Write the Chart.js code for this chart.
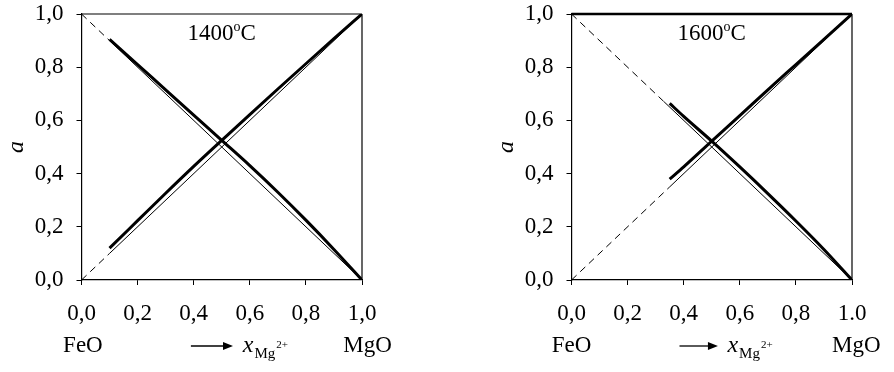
<!DOCTYPE html>
<html lang="en-US">

<head>
    <meta charset="UTF-8">
    <title>FeO-MgO activities</title>
    <script src="https://cdn.jsdelivr.net/npm/chart.js"></script>
    <style>
        body { margin: 0; background: #fff; }
        .panel { position: absolute; top: 0; width: 404px; height: 372px; }
    </style>
</head>

<body>
    <div class="panel" style="left:0px"><canvas id="chart1400"></canvas></div>
    <div class="panel" style="left:490px"><canvas id="chart1600"></canvas></div>

    <script>
        // tick labels (the right panel really shows "1.0" on the x axis)
        const yTickLabels = ['0,0', '0,2', '0,4', '0,6', '0,8', '1,0'];
        const xTickLabels1400 = ['0,0', '0,2', '0,4', '0,6', '0,8', '1,0'];
        const xTickLabels1600 = ['0,0', '0,2', '0,4', '0,6', '0,8', '1.0'];

        // 1400 C: measured activities vs mole fraction of Mg2+
        const xMg1400 = [0.1, 0.2, 0.3, 0.4, 0.5, 0.6, 0.7, 0.8, 0.9, 1.0];
        const aMg1400 = [0.12, 0.223, 0.326, 0.427, 0.525, 0.622, 0.718, 0.813, 0.907, 1.0];
        const aFe1400 = [0.905, 0.81, 0.715, 0.62, 0.525, 0.43, 0.33, 0.225, 0.115, 0.0];

        // 1600 C
        const xMg1600 = [0.35, 0.4, 0.5, 0.6, 0.7, 0.8, 0.9, 1.0];
        const aMg1600 = [0.379, 0.425, 0.522, 0.618, 0.715, 0.81, 0.905, 1.0];
        const aFe1600 = [0.664, 0.615, 0.522, 0.425, 0.325, 0.222, 0.115, 0.0];

        // ideal (Raoult) lines, dashed up to the second point
        const idealMgX1400 = [0, 0.1, 1];
        const idealMgY1400 = [0, 0.1, 1];
        const idealFeX1400 = [0, 0.1, 1];
        const idealFeY1400 = [1, 0.9, 0];
        const idealMgX1600 = [0, 0.35, 1];
        const idealMgY1600 = [0, 0.35, 1];
        const idealFeX1600 = [0, 0.33, 1];
        const idealFeY1600 = [1, 0.67, 0];

        Chart.defaults.font.family = "'Liberation Serif', 'Times New Roman', serif";
        Chart.defaults.color = '#000';

        function pts(xs, ys) {
            return xs.map((x, i) => ({ x: x, y: ys[i] }));
        }

        function thick(xs, ys) {
            return { data: pts(xs, ys), borderColor: '#000', borderWidth: 3, pointRadius: 0, cubicInterpolationMode: 'monotone' };
        }

        function ideal(xs, ys) {
            return {
                data: pts(xs, ys), borderColor: '#000', borderWidth: 1, pointRadius: 0,
                segment: { borderDash: ctx => ctx.p0DataIndex === 0 ? [7, 5] : undefined }
            };
        }

        // frame, temperature and the composition row under the axis
        const panelDecor = {
            id: 'panelDecor',
            afterDraw(chart, args, opts) {
                const { ctx, chartArea: a, scales: { x, y } } = chart;
                ctx.save();
                ctx.strokeStyle = '#000';
                ctx.fillStyle = '#000';
                ctx.lineWidth = opts.topWidth;
                ctx.beginPath(); ctx.moveTo(a.left, a.top); ctx.lineTo(a.right, a.top); ctx.stroke();
                ctx.lineWidth = 1.2;
                ctx.beginPath(); ctx.moveTo(a.right, a.top); ctx.lineTo(a.right, a.bottom); ctx.stroke();

                // temperature with superscript o
                const serif = Chart.defaults.font.family;
                ctx.textBaseline = 'alphabetic';
                ctx.textAlign = 'left';
                const big = '23px ' + serif, small = '14px ' + serif;
                ctx.font = big;
                const wNum = ctx.measureText(opts.temp).width, wC = ctx.measureText('C').width;
                ctx.font = small;
                const wO = ctx.measureText('o').width;
                let tx = x.getPixelForValue(0.5) - (wNum + wO + wC) / 2;
                const ty = y.getPixelForValue(0.93) + 7;
                ctx.font = big; ctx.fillText(opts.temp, tx, ty); tx += wNum;
                ctx.font = small; ctx.fillText('o', tx, ty - 9); tx += wO;
                ctx.font = big; ctx.fillText('C', tx, ty);

                // FeO ---> x Mg2+ MgO
                const rowY = a.bottom + 72;
                ctx.textAlign = 'center';
                ctx.font = big;
                ctx.fillText('FeO', x.getPixelForValue(opts.feoAt), rowY);
                ctx.fillText('MgO', x.getPixelForValue(opts.mgoAt), rowY);
                const ax0 = x.getPixelForValue(opts.arrow[0]), ax1 = x.getPixelForValue(opts.arrow[1]);
                const ay = rowY - 6;
                ctx.lineWidth = 1.3;
                ctx.beginPath(); ctx.moveTo(ax0, ay); ctx.lineTo(ax1 - 8, ay); ctx.stroke();
                ctx.beginPath(); ctx.moveTo(ax1, ay); ctx.lineTo(ax1 - 10, ay - 4); ctx.lineTo(ax1 - 10, ay + 4); ctx.closePath(); ctx.fill();
                ctx.textAlign = 'left';
                let lx = x.getPixelForValue(opts.xLabelAt);
                ctx.font = 'italic 24px ' + serif;
                ctx.fillText('x', lx, rowY);
                lx += ctx.measureText('x').width + 1;
                ctx.font = '15px ' + serif;
                ctx.fillText('Mg', lx, rowY + 6);
                lx += ctx.measureText('Mg').width + 1;
                ctx.font = '11px ' + serif;
                ctx.fillText('2+', lx, rowY - 4);
                ctx.restore();
            }
        };

        function makePanel(id, tickX, datasets, decor) {
            new Chart(document.getElementById(id), {
                type: 'line',
                data: { datasets: datasets },
                plugins: [panelDecor],
                options: {
                    responsive: true,
                    maintainAspectRatio: false,
                    animation: false,
                    layout: { padding: { left: 0, right: 42, top: 14, bottom: 42 } },
                    plugins: { legend: { display: false }, tooltip: { enabled: false }, panelDecor: decor },
                    scales: {
                        x: {
                            type: 'linear', min: 0, max: 1,
                            afterFit: s => { s.height = 50; },
                            ticks: { stepSize: 0.2, padding: 15, font: { size: 23 }, maxRotation: 0, callback: (v, i) => tickX[i] },
                            grid: { drawOnChartArea: false, tickLength: 5, color: '#000', lineWidth: 1 },
                            border: { color: '#000', width: 1.2 }
                        },
                        y: {
                            min: 0, max: 1,
                            afterFit: s => { s.width = 81.5; s.paddingTop = 0; s.paddingBottom = 0; },
                            ticks: { stepSize: 0.2, padding: 13, font: { size: 23 }, callback: (v, i) => yTickLabels[i] },
                            grid: { drawOnChartArea: false, tickLength: 5, color: '#000', lineWidth: 1 },
                            border: { color: '#000', width: 1.2 },
                            title: { display: true, text: 'a', font: { size: 24, style: 'italic' }, padding: { top: 2, bottom: 0 } }
                        }
                    }
                }
            });
        }

        makePanel('chart1400', xTickLabels1400, [
            thick(xMg1400, aMg1400),
            thick(xMg1400, aFe1400),
            ideal(idealMgX1400, idealMgY1400),
            ideal(idealFeX1400, idealFeY1400)
        ], { temp: '1400', topWidth: 1.2, feoAt: 0.005, mgoAt: 1.02, arrow: [0.39, 0.54], xLabelAt: 0.575 });

        makePanel('chart1600', xTickLabels1600, [
            thick(xMg1600, aMg1600),
            thick(xMg1600, aFe1600),
            ideal(idealMgX1600, idealMgY1600),
            ideal(idealFeX1600, idealFeY1600)
        ], { temp: '1600', topWidth: 2.5, feoAt: 0, mgoAt: 1.015, arrow: [0.385, 0.522], xLabelAt: 0.556 });
    </script>
</body>
</html>
